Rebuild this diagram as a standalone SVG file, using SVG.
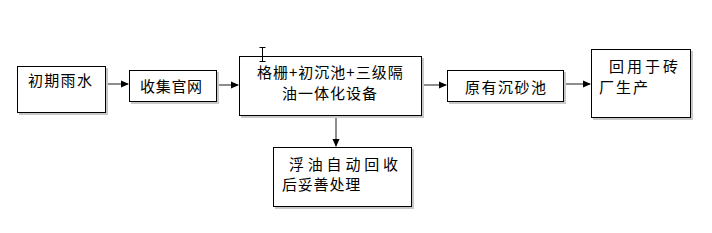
<svg xmlns="http://www.w3.org/2000/svg" width="712" height="233" viewBox="0 0 712 233">
<style>
.box{fill:#fff;stroke:#000;stroke-width:1}
.sh{fill:#c8c8c8;stroke:none}
.t{font-family:"Noto Sans CJK SC","Noto Sans CJK JP",sans-serif;font-size:15px;fill:#000}
.c{stroke:#505050;stroke-width:1.3;fill:none;marker-end:url(#ah)}
</style>
<defs>
<marker id="ah" markerWidth="8" markerHeight="8" refX="7" refY="4" orient="auto" markerUnits="userSpaceOnUse">
<path d="M0,0.5 L8,4 L0,7.5 Z" fill="#000"/>
</marker>
</defs>
<rect width="712" height="233" fill="#fff"/>
<g id="connectors">
<line class="c" x1="106" y1="84" x2="128" y2="84"/>
<line class="c" x1="217" y1="85" x2="238" y2="85"/>
<line class="c" x1="422" y1="85" x2="446" y2="85"/>
<line class="c" x1="564" y1="84" x2="590" y2="84"/>
<line class="c" x1="336" y1="116" x2="336" y2="146"/>
</g>
<g id="n1">
<rect class="sh" x="19" y="68" width="89" height="47"/>
<rect class="box" x="17.5" y="66.5" width="88" height="46"/>
<text class="t" x="28" y="86" style="letter-spacing:1.3px">初期雨水</text>
</g>
<g id="n2">
<rect class="sh" x="131" y="72" width="88" height="32"/>
<rect class="box" x="129.5" y="70.5" width="87" height="31"/>
<text class="t" x="140" y="91.5" style="letter-spacing:0.7px">收集官网</text>
</g>
<g id="n3">
<rect class="sh" x="241" y="58" width="183" height="60"/>
<rect class="box" x="239.5" y="56.5" width="182" height="59"/>
<text class="t" x="257" y="78" style="letter-spacing:1px">格栅+初沉池+三级隔</text>
<text class="t" x="282" y="98.5" style="letter-spacing:1px">油一体化设备</text>
</g>
<g id="n4">
<rect class="sh" x="449" y="72" width="117" height="32"/>
<rect class="box" x="447.5" y="70.5" width="116" height="31"/>
<text class="t" x="465" y="92.5" style="letter-spacing:1.5px">原有沉砂池</text>
</g>
<g id="n5">
<rect class="sh" x="593" y="51" width="100" height="69"/>
<rect class="box" x="591.5" y="49.5" width="99" height="68"/>
<text class="t" x="609" y="71.5" style="letter-spacing:3px">回用于砖</text>
<text class="t" x="599" y="93" style="letter-spacing:2px">厂生产</text>
</g>
<g id="n6">
<rect class="sh" x="275" y="149" width="139" height="60"/>
<rect class="box" x="273.5" y="147.5" width="138" height="59"/>
<text class="t" x="289" y="169.5" style="letter-spacing:3.8px">浮油自动回收</text>
<text class="t" x="282" y="190" style="letter-spacing:0.8px">后妥善处理</text>
</g>
<g id="cursor" stroke="#000" stroke-width="1" fill="none">
<path d="M259.5,47.5 H265.5 M262.5,47.5 V61.5 M259.5,61.5 H265.5"/>
</g>
</svg>
